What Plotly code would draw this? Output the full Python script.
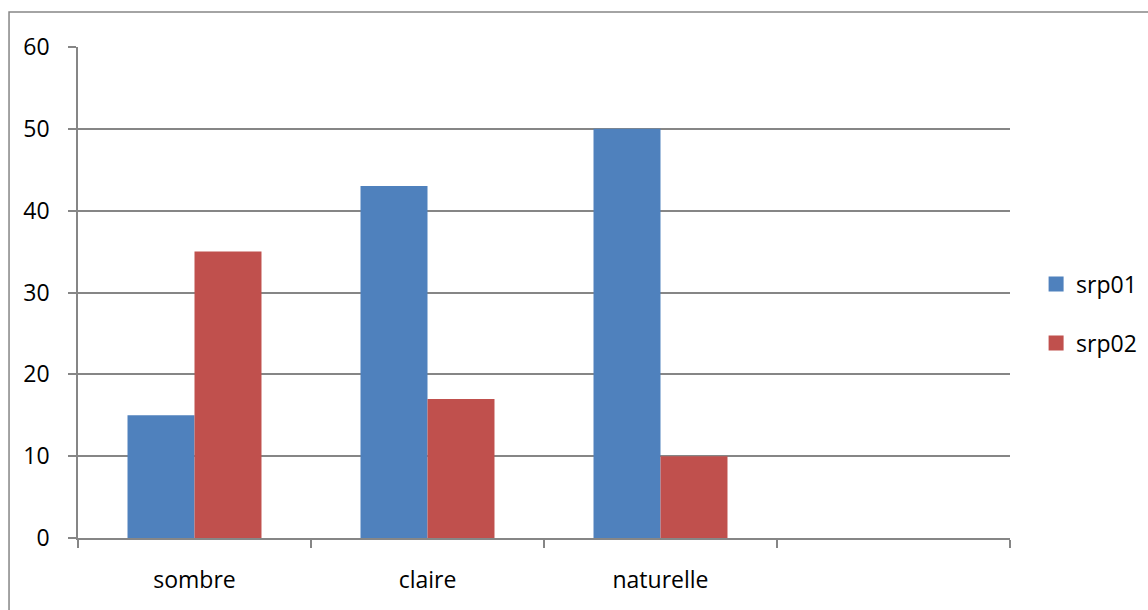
import plotly.graph_objects as go

categories = ["sombre", "claire", "naturelle", " "]
srp01 = [15, 43, 50]
srp02 = [35, 17, 10]
y_ticks = [0, 10, 20, 30, 40, 50, 60]

BLUE = "#4F81BD"
RED = "#C0504D"
GRID = "#868686"
FONT = "Open Sans"
SIZE = 23

fig = go.Figure()
fig.add_trace(go.Bar(x=categories[:3], y=srp01, name="srp01",
                     marker=dict(color=BLUE, line=dict(width=0)), showlegend=False))
fig.add_trace(go.Bar(x=categories[:3], y=srp02, name="srp02",
                     marker=dict(color=RED, line=dict(width=0)), showlegend=False))

# legend entries with larger square swatches, one per legend box
fig.add_trace(go.Scatter(x=[None], y=[None], mode="markers", name="srp01",
                         marker=dict(symbol="square", size=15, color=BLUE),
                         legend="legend"))
fig.add_trace(go.Scatter(x=[None], y=[None], mode="markers", name="srp02",
                         marker=dict(symbol="square", size=15, color=RED),
                         legend="legend2"))

legend_style = dict(xanchor="left", yanchor="middle", x=1.028,
                    font=dict(family=FONT, size=SIZE, color="#000000"),
                    bgcolor="rgba(0,0,0,0)", borderwidth=0)

fig.update_layout(
    width=1148, height=610,
    margin=dict(l=78, r=138, t=47, b=72, autoexpand=False),
    paper_bgcolor="white", plot_bgcolor="white",
    barmode="group", bargap=0.425, bargroupgap=0,
    font=dict(family=FONT, size=SIZE, color="#000000"),
    legend=dict(y=0.517, **legend_style),
    legend2=dict(y=0.397, **legend_style),
    xaxis=dict(type="category", categoryorder="array", categoryarray=categories,
               range=[-0.5, 3.5], tickson="boundaries", ticks="outside", ticklen=8,
               tickcolor=GRID, tickwidth=1.5, showline=True, linecolor=GRID,
               linewidth=1.5, showgrid=False, ticklabelstandoff=21,
               tickfont=dict(family=FONT, size=SIZE, color="#000000")),
    yaxis=dict(range=[0, 60], tickvals=y_ticks, ticks="outside", ticklen=8,
               tickcolor=GRID, tickwidth=1.5, showline=True, linecolor=GRID,
               linewidth=1.5, showgrid=True, gridcolor=GRID, gridwidth=1.5,
               zeroline=False, ticklabelstandoff=14,
               tickfont=dict(family=FONT, size=SIZE, color="#000000")),
    shapes=[dict(type="rect", xref="paper", yref="paper",
                 x0=-0.074, y0=-0.3, x1=1.3, y1=1.0713,
                 line=dict(color=GRID, width=1.5), fillcolor="rgba(0,0,0,0)",
                 layer="below")],
)

fig.write_html("out.html")
